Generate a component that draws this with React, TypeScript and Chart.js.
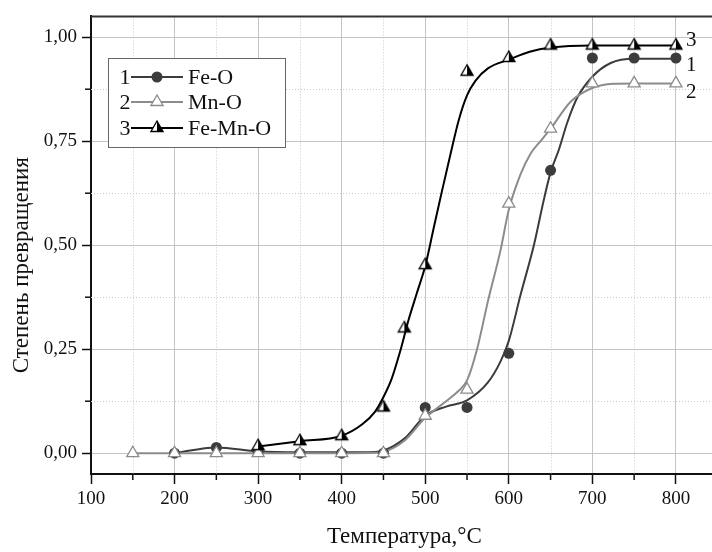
import React, { useEffect, useRef } from 'react';
import { Chart, registerables } from 'chart.js';
Chart.register(...registerables);

// ---- measured points ----
const feOX = [200, 250, 300, 350, 400, 450, 500, 550, 600, 650, 700, 750, 800];
const feOY = [0, 0.014, 0.004, 0, 0, 0, 0.11, 0.11, 0.24, 0.68, 0.95, 0.95, 0.95];
const mnOX = [150, 200, 250, 300, 350, 400, 450, 500, 550, 600, 650, 700, 750, 800];
const mnOY = [0, 0, 0, 0, 0, 0, 0, 0.09, 0.153, 0.6, 0.78, 0.889, 0.889, 0.889];
const feMnOX = [300, 350, 400, 450, 475, 500, 550, 600, 650, 700, 750, 800];
const feMnOY = [0.017, 0.029, 0.041, 0.11, 0.3, 0.452, 0.917, 0.95, 0.98, 0.98, 0.98, 0.98];

// ---- fitted curves ----
const feOCurveX = [200, 250, 300, 350, 400, 440, 450, 475, 500, 525, 550, 575, 590, 600, 614, 630, 642, 650, 660, 670, 682, 700, 722, 750, 800];
const feOCurveY = [0, 0.014, 0.004, 0.002, 0.002, 0.003, 0.006, 0.035, 0.09, 0.112, 0.127, 0.17, 0.22, 0.27, 0.38, 0.5, 0.61, 0.675, 0.73, 0.795, 0.855, 0.905, 0.938, 0.948, 0.948];
const mnOCurveX = [150, 200, 250, 300, 350, 400, 440, 450, 475, 500, 525, 540, 550, 562, 575, 590, 600, 614, 626, 640, 650, 674, 700, 725, 750, 800];
const mnOCurveY = [0, 0, 0, 0, 0, 0, 0.001, 0.003, 0.03, 0.085, 0.125, 0.15, 0.175, 0.25, 0.365, 0.487, 0.585, 0.67, 0.72, 0.755, 0.78, 0.845, 0.878, 0.888, 0.889, 0.889];
const feMnOCurveX = [300, 350, 400, 425, 440, 450, 460, 470, 480, 490, 500, 510, 520, 530, 540, 550, 560, 575, 600, 625, 650, 700, 800];
const feMnOCurveY = [0.016, 0.029, 0.042, 0.07, 0.1, 0.135, 0.18, 0.245, 0.32, 0.385, 0.45, 0.54, 0.63, 0.717, 0.8, 0.86, 0.895, 0.925, 0.946, 0.965, 0.975, 0.98, 0.98];

// ---- labels ----
const seriesNames = ['Fe-O', 'Mn-O', 'Fe-Mn-O'];
const seriesNumbers = ['1', '2', '3'];
const xTitle = 'Температура,°C';
const yTitle = 'Степень превращения';

const FONT = "'Liberation Serif', 'DejaVu Serif', serif";
const zip = (xs: number[], ys: number[]) => xs.map((x, i) => ({ x, y: ys[i] }));
const isMajorY = (v: number) => Math.abs(v / 0.25 - Math.round(v / 0.25)) < 1e-6;

function makeHalfTriangle(r: number): HTMLCanvasElement {
  const c = document.createElement('canvas');
  const s = Math.ceil(r * 2 + 4);
  c.width = s; c.height = s;
  const g = c.getContext('2d')!;
  const cx = s / 2, cy = s / 2;
  const dx = r * Math.sin(Math.PI / 3), dy = r * 0.5;
  g.beginPath();
  g.moveTo(cx, cy - r); g.lineTo(cx + dx, cy + dy); g.lineTo(cx - dx, cy + dy); g.closePath();
  g.fillStyle = '#fff'; g.fill();
  g.beginPath();
  g.moveTo(cx, cy - r); g.lineTo(cx + dx, cy + dy); g.lineTo(cx, cy + dy); g.closePath();
  g.fillStyle = '#000'; g.fill();
  g.beginPath();
  g.moveTo(cx, cy - r); g.lineTo(cx + dx, cy + dy); g.lineTo(cx - dx, cy + dy); g.closePath();
  g.strokeStyle = '#000'; g.lineWidth = 1.3; g.stroke();
  return c;
}

export default function App() {
  const ref = useRef<HTMLCanvasElement>(null);
  useEffect(() => {
    if (!ref.current) return;
    const half = makeHalfTriangle(7);
    const colors = ['#3c3c3c', '#8c8c8c', '#000000'];
    const endOffsets = [7, 9, -5];

    const decor = {
      id: 'decor',
      beforeDatasetsDraw(chart: any) {
        const { ctx, chartArea: a, scales } = chart;
        ctx.save();
        ctx.strokeStyle = '#c9c9c9';
        ctx.lineWidth = 1;
        ctx.setLineDash([1, 2]);
        for (const t of scales.x.ticks) {
          if (t.value % 100 === 0) continue;
          const p = Math.round(scales.x.getPixelForValue(t.value)) + 0.5;
          ctx.beginPath(); ctx.moveTo(p, a.top); ctx.lineTo(p, a.bottom); ctx.stroke();
        }
        for (const t of scales.y.ticks) {
          if (isMajorY(t.value)) continue;
          const p = Math.round(scales.y.getPixelForValue(t.value)) + 0.5;
          ctx.beginPath(); ctx.moveTo(a.left, p); ctx.lineTo(a.right, p); ctx.stroke();
        }
        ctx.restore();
      },
      afterDraw(chart: any) {
        const { ctx, chartArea: a, scales } = chart;
        ctx.save();
        // minor ticks
        ctx.strokeStyle = '#111';
        ctx.lineWidth = 1.5;
        for (const t of scales.x.ticks) {
          if (t.value % 100 === 0) continue;
          const p = scales.x.getPixelForValue(t.value);
          ctx.beginPath(); ctx.moveTo(p, a.bottom); ctx.lineTo(p, a.bottom + 6); ctx.stroke();
        }
        for (const t of scales.y.ticks) {
          if (isMajorY(t.value)) continue;
          const p = scales.y.getPixelForValue(t.value);
          ctx.beginPath(); ctx.moveTo(a.left, p); ctx.lineTo(a.left - 6, p); ctx.stroke();
        }
        // frame top/right
        ctx.strokeStyle = '#333';
        ctx.lineWidth = 2;
        ctx.beginPath(); ctx.moveTo(a.left, a.top); ctx.lineTo(a.right, a.top); ctx.lineTo(a.right, a.bottom); ctx.stroke();

        // y title
        ctx.save();
        ctx.translate(22, (a.top + a.bottom) / 2 + 20);
        ctx.rotate(-Math.PI / 2);
        ctx.fillStyle = '#111';
        ctx.font = `23px ${FONT}`;
        ctx.textAlign = 'center';
        ctx.textBaseline = 'middle';
        ctx.fillText(yTitle, 0, 0);
        ctx.restore();

        // end labels
        ctx.fillStyle = '#111';
        ctx.font = `21px ${FONT}`;
        ctx.textAlign = 'left';
        ctx.textBaseline = 'middle';
        const lastY = [feOY[feOY.length - 1], mnOY[mnOY.length - 1], feMnOY[feMnOY.length - 1]];
        const lastX = [feOX[feOX.length - 1], mnOX[mnOX.length - 1], feMnOX[feMnOX.length - 1]];
        for (let i = 0; i < 3; i++) {
          ctx.fillText(seriesNumbers[i], scales.x.getPixelForValue(lastX[i]) + 10, scales.y.getPixelForValue(lastY[i]) + endOffsets[i]);
        }

        // legend
        const bx = 108, by = 58, bw = 177, bh = 89;
        ctx.fillStyle = '#fff';
        ctx.fillRect(bx, by, bw, bh);
        ctx.strokeStyle = '#666';
        ctx.lineWidth = 1;
        ctx.strokeRect(bx + 0.5, by + 0.5, bw, bh);
        const rows = [77, 102, 128];
        for (let i = 0; i < 3; i++) {
          const y = rows[i];
          ctx.fillStyle = '#111';
          ctx.font = `22px ${FONT}`;
          ctx.textAlign = 'center';
          ctx.textBaseline = 'middle';
          ctx.fillText(seriesNumbers[i], 125, y + 1);
          ctx.strokeStyle = colors[i];
          ctx.lineWidth = 2;
          ctx.beginPath(); ctx.moveTo(131, y); ctx.lineTo(183, y); ctx.stroke();
          const mx = 157;
          if (i === 0) {
            ctx.beginPath(); ctx.arc(mx, y, 5.5, 0, Math.PI * 2); ctx.fillStyle = colors[0]; ctx.fill();
          } else if (i === 1) {
            const r = 7, dx = r * Math.sin(Math.PI / 3), dy = r * 0.5;
            ctx.beginPath(); ctx.moveTo(mx, y - r); ctx.lineTo(mx + dx, y + dy); ctx.lineTo(mx - dx, y + dy); ctx.closePath();
            ctx.fillStyle = '#fff'; ctx.fill(); ctx.strokeStyle = '#8c8c8c'; ctx.lineWidth = 1.3; ctx.stroke();
          } else {
            ctx.drawImage(half, mx - half.width / 2, y - half.height / 2);
          }
          ctx.fillStyle = '#111';
          ctx.textAlign = 'left';
          ctx.fillText(seriesNames[i], 188, y + 1);
        }
        ctx.restore();
      },
    };

    const chart = new Chart(ref.current, {
      type: 'scatter',
      data: {
        datasets: [
          {
            label: 'Fe-Mn-O pts', data: zip(feMnOX, feMnOY), pointStyle: half as any,
            pointRadius: 7, showLine: false, order: 1,
          },
          {
            label: 'Mn-O pts', data: zip(mnOX, mnOY), pointStyle: 'triangle', pointRadius: 7,
            backgroundColor: '#fff', borderColor: '#8c8c8c', borderWidth: 1.3, showLine: false, order: 2,
          },
          {
            label: 'Fe-O pts', data: zip(feOX, feOY), pointStyle: 'circle', pointRadius: 5.5,
            backgroundColor: colors[0], borderColor: colors[0], borderWidth: 0, showLine: false, order: 3,
          },
          {
            label: 'Fe-Mn-O fit', data: zip(feMnOCurveX, feMnOCurveY), showLine: true, pointRadius: 0,
            borderColor: colors[2], borderWidth: 2, cubicInterpolationMode: 'monotone', order: 4,
          },
          {
            label: 'Mn-O fit', data: zip(mnOCurveX, mnOCurveY), showLine: true, pointRadius: 0,
            borderColor: colors[1], borderWidth: 2, cubicInterpolationMode: 'monotone', order: 5,
          },
          {
            label: 'Fe-O fit', data: zip(feOCurveX, feOCurveY), showLine: true, pointRadius: 0,
            borderColor: colors[0], borderWidth: 2, cubicInterpolationMode: 'monotone', order: 6,
          },
        ],
      },
      options: {
        animation: false,
        responsive: false,
        layout: { padding: { top: 15, right: 2, left: 0, bottom: 0 } },
        plugins: { legend: { display: false }, tooltip: { enabled: false } },
        scales: {
          x: {
            type: 'linear', min: 100, max: 850,
            afterFit: (s: any) => { s.height = 78; s.paddingRight = 0; s.paddingLeft = 0; },
            ticks: {
              stepSize: 50, includeBounds: false, padding: 4, color: '#111',
              font: { family: FONT, size: 19 },
              callback: (v: any) => (v % 100 === 0 && v <= 800 ? String(v) : ''),
              maxRotation: 0, autoSkip: false,
            },
            grid: {
              color: (c: any) => (c.tick && c.tick.value % 100 === 0 ? '#c4c4c4' : 'rgba(0,0,0,0)'),
              tickColor: (c: any) => (c.tick && c.tick.value % 100 === 0 ? '#111' : 'rgba(0,0,0,0)'),
              tickLength: 10, tickWidth: 1.5, lineWidth: 1,
            },
            border: { color: '#111', width: 2 },
            title: { display: true, text: xTitle, color: '#111', font: { family: FONT, size: 23 }, padding: { top: 0, bottom: 1 } },
          },
          y: {
            type: 'linear', min: -0.05, max: 1.05,
            afterFit: (s: any) => { s.width = 91; },
            ticks: {
              stepSize: 0.125, includeBounds: false, padding: 5, color: '#111',
              font: { family: FONT, size: 19 },
              callback: (v: any) => (isMajorY(Number(v)) ? Number(v).toFixed(2).replace('.', ',') : ''),
              autoSkip: false,
            },
            grid: {
              color: (c: any) => (c.tick && isMajorY(c.tick.value) ? '#c4c4c4' : 'rgba(0,0,0,0)'),
              tickColor: (c: any) => (c.tick && isMajorY(c.tick.value) ? '#111' : 'rgba(0,0,0,0)'),
              tickLength: 9, tickWidth: 1.5, lineWidth: 1,
            },
            border: { color: '#111', width: 2 },
            title: { display: false, text: yTitle },
          },
        },
      },
      plugins: [decor],
    });
    return () => chart.destroy();
  }, []);

  return (
    <div style={{ position: 'fixed', left: 0, top: 0, width: 712, height: 552, overflow: 'hidden', background: '#fff' }}>
      <canvas ref={ref} width={726} height={552} style={{ display: 'block', width: 726, height: 552 }} />
    </div>
  );
}
